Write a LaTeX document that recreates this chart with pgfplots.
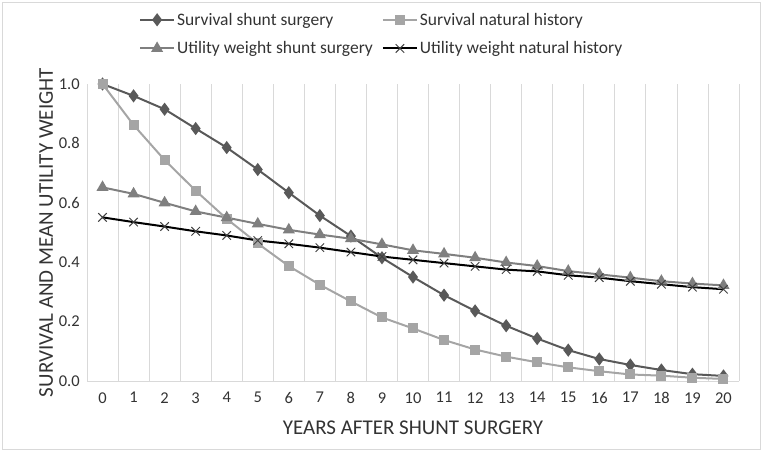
\documentclass[border=0pt]{standalone}
\usepackage{pgfplots}
\pgfplotsset{compat=1.18}
\usepackage{fontspec}
\setmainfont{Carlito}

\definecolor{cshunt}{HTML}{595959}
\definecolor{cnat}{HTML}{A5A5A5}
\definecolor{cushunt}{HTML}{7F7F7F}
\definecolor{cunat}{HTML}{000000}
\definecolor{cgrid}{HTML}{D9D9D9}

\begin{document}
\begin{tikzpicture}[x=1pt,y=1pt]
\useasboundingbox (0,0) rectangle (762,453);
\draw[cgrid, line width=0.8pt] (2,4) rectangle (760,451);
\begin{axis}[
    at={(87pt,72pt)}, anchor=south west,
    scale only axis,
    width=652pt, height=297pt,
    xmin=-0.5, xmax=20.5,
    ymin=0, ymax=1.0,
    xtick={0,...,20},
    minor xtick={-0.5,0.5,...,20.5},
    ytick={0,0.2,...,1.0},
    yticklabel style={/pgf/number format/.cd,fixed,fixed zerofill,precision=1},
    /pgf/number format/assume math mode=true,
    tick label style={font=\fontsize{16.5}{19}\selectfont, color=black!80},
    xtick style={draw=none}, ytick style={draw=none},
    minor tick style={draw=none},
    xminorgrids, minor grid style={cgrid, line width=0.8pt},
    axis line style={draw=none},
    axis x line*=bottom,
    axis y line*=left,
    xticklabel shift=7pt,
    yticklabel shift=3pt,
    xlabel={YEARS AFTER SHUNT SURGERY},
    ylabel={SURVIVAL AND MEAN UTILITY WEIGHT},
    label style={font=\fontsize{21}{24}\selectfont, color=black!80},
    xlabel style={yshift=-9pt},
    ylabel style={yshift=-2pt},
    clip=false,
    line width=2pt,
    legend columns=2,
    legend style={at={(0.452,1.168)}, anchor=center, draw=none, fill=none,
        font=\fontsize{17.5}{20}\selectfont, text=black!80,
        /tikz/every even column/.append style={column sep=7pt},
        row sep=11pt},
    legend cell align={left},
    legend image code/.code={
        \draw[mark repeat=2,mark phase=2,#1] plot coordinates {(0pt,0pt) (17pt,0pt) (34pt,0pt)};},
]
\draw[cgrid, line width=0.8pt] (axis cs:-0.5,0) -- (axis cs:20.5,0);

\addplot[color=cshunt, mark=diamond*, mark size=5pt, mark options={fill=cshunt}] coordinates {
(0,1.000) (1,0.960) (2,0.915) (3,0.850) (4,0.786) (5,0.712) (6,0.634)
(7,0.557) (8,0.488) (9,0.415) (10,0.350) (11,0.289) (12,0.236) (13,0.186)
(14,0.143) (15,0.104) (16,0.074) (17,0.054) (18,0.037) (19,0.023) (20,0.017)
};
\addlegendentry{Survival shunt surgery}

\addplot[color=cnat, mark=square*, mark size=4pt, mark options={fill=cnat}] coordinates {
(0,1.000) (1,0.862) (2,0.744) (3,0.641) (4,0.546) (5,0.463) (6,0.387)
(7,0.324) (8,0.268) (9,0.214) (10,0.177) (11,0.138) (12,0.106) (13,0.082)
(14,0.063) (15,0.046) (16,0.033) (17,0.022) (18,0.018) (19,0.011) (20,0.007)
};
\addlegendentry{Survival natural history}

\addplot[color=cushunt, mark=triangle*, mark size=5pt, mark options={fill=cushunt}] coordinates {
(0,0.652) (1,0.630) (2,0.600) (3,0.571) (4,0.550) (5,0.529) (6,0.509)
(7,0.493) (8,0.479) (9,0.460) (10,0.440) (11,0.428) (12,0.415) (13,0.399)
(14,0.387) (15,0.370) (16,0.359) (17,0.348) (18,0.336) (19,0.328) (20,0.322)
};
\addlegendentry{Utility weight shunt surgery}

\addplot[color=cunat, mark=x, mark size=6pt, mark options={line width=1pt, color=black!75}] coordinates {
(0,0.551) (1,0.535) (2,0.520) (3,0.504) (4,0.490) (5,0.473) (6,0.462)
(7,0.449) (8,0.434) (9,0.419) (10,0.408) (11,0.397) (12,0.386) (13,0.375)
(14,0.369) (15,0.356) (16,0.348) (17,0.336) (18,0.326) (19,0.316) (20,0.309)
};
\addlegendentry{Utility weight natural history}
\end{axis}
\end{tikzpicture}
\end{document}
